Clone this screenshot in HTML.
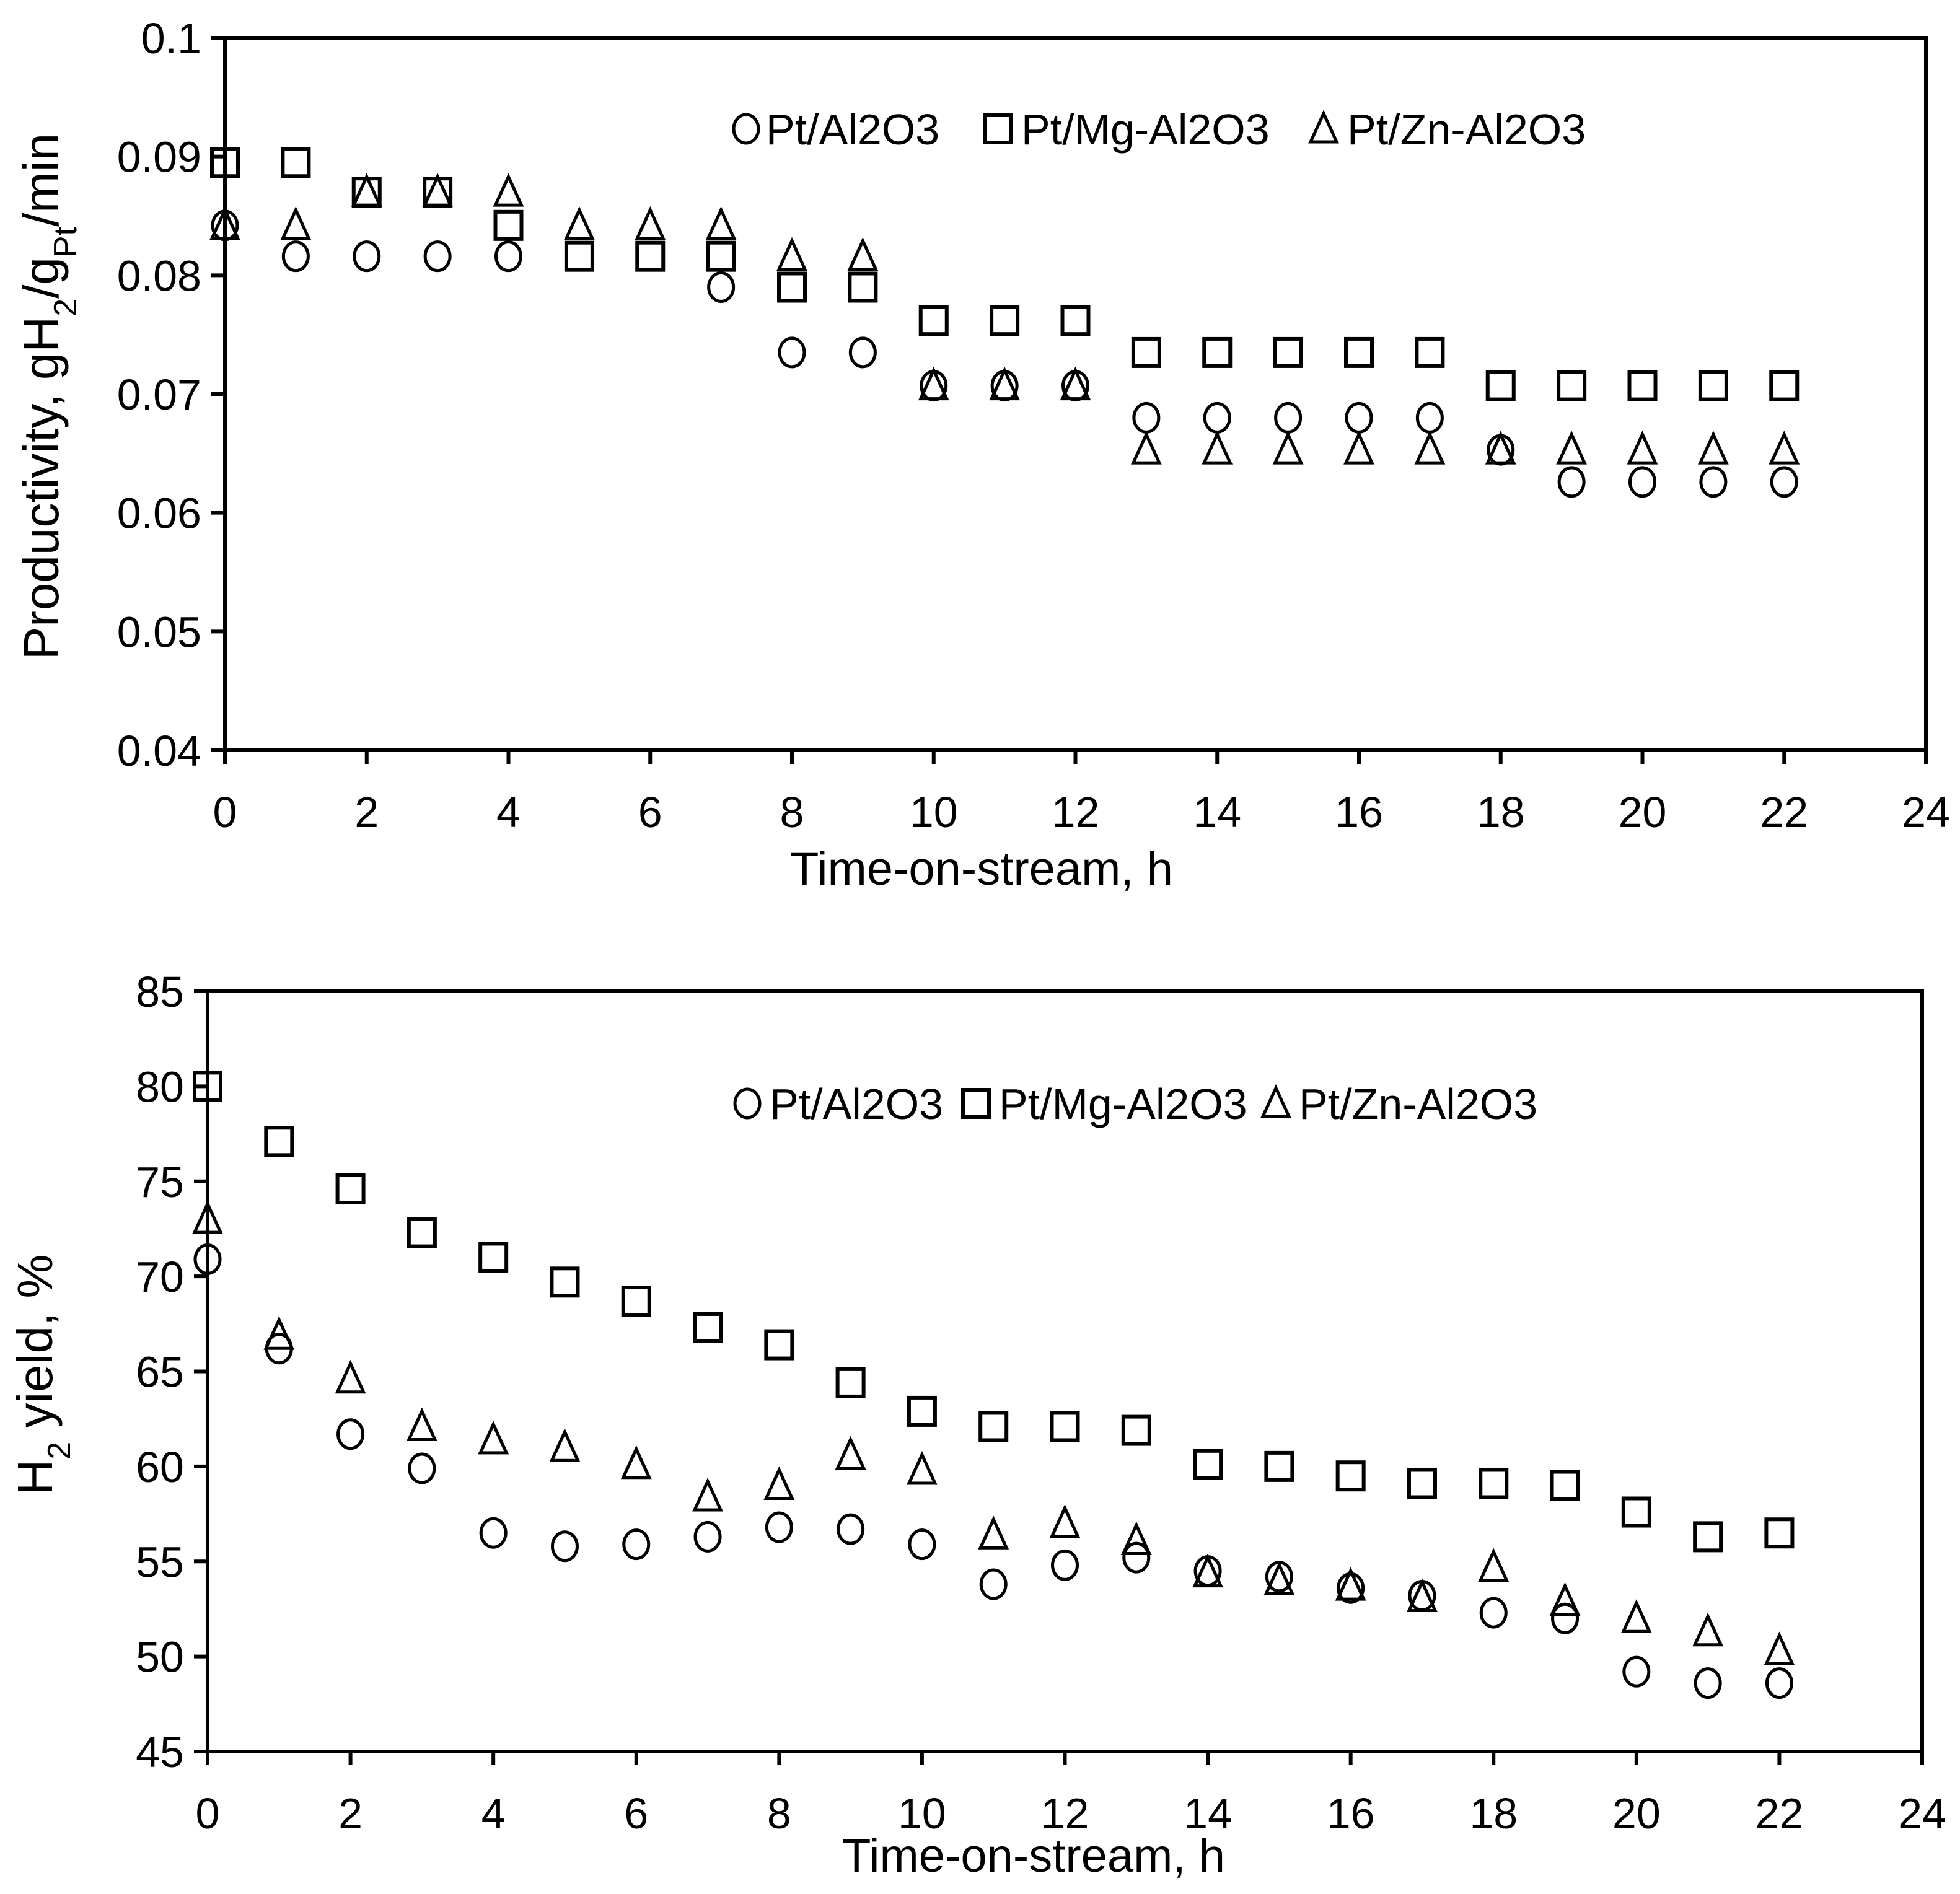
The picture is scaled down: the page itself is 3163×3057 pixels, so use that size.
<!DOCTYPE html>
<html><head><meta charset="utf-8"><style>
html,body{margin:0;padding:0;background:#fff;}
svg{display:block;}
text{font-family:"Liberation Sans",sans-serif;fill:#000;}
</style></head><body>
<svg id="fig" width="3163" height="3057" viewBox="0 0 3163 3057" xmlns="http://www.w3.org/2000/svg"></svg>
<script>
const hours = [0,1,2,3,4,5,6,7,8,9,10,11,12,13,14,15,16,17,18,19,20,21,22];
const prodAl = [0.0842,0.0816,0.0816,0.0816,0.0816,null,null,0.079,0.0735,0.0735,0.0707,0.0707,0.0707,0.068,0.068,0.068,0.068,0.068,0.0653,0.0626,0.0626,0.0626,0.0626];
const prodMg = [0.0895,0.0895,0.087,0.087,0.0842,0.0816,0.0816,0.0816,0.079,0.079,0.0762,0.0762,0.0762,0.0735,0.0735,0.0735,0.0735,0.0735,0.0707,0.0707,0.0707,0.0707,0.0707];
const prodZn = [0.0842,0.0842,0.087,0.087,0.087,0.0842,0.0842,0.0842,0.0816,0.0816,0.0707,0.0707,0.0707,0.0653,0.0653,0.0653,0.0653,0.0653,0.0653,0.0653,0.0653,0.0653,0.0653];
const yieldAl = [70.9,66.2,61.7,59.9,56.5,55.8,55.9,56.3,56.8,56.7,55.9,53.8,54.8,55.2,54.5,54.2,53.6,53.2,52.3,52.0,49.2,48.6,48.6];
const yieldMg = [80.0,77.1,74.6,72.3,71.0,69.7,68.7,67.3,66.4,64.4,62.9,62.1,62.1,61.9,60.1,60.0,59.5,59.1,59.1,59.0,57.6,56.3,56.5];
const yieldZn = [73.0,66.9,64.6,62.1,61.4,61.0,60.1,58.4,59.0,60.6,59.8,56.4,57.0,56.1,54.4,54.0,53.7,53.1,54.7,52.9,52.0,51.3,50.3];
const xTicks = [0,2,4,6,8,10,12,14,16,18,20,22,24];
const prodTicks = ["0.04","0.05","0.06","0.07","0.08","0.09","0.1"];
const yieldTicks = ["45","50","55","60","65","70","75","80","85"];

const NS="http://www.w3.org/2000/svg";
const svg=document.getElementById('fig');
function mk(tag,attrs,parent){const e=document.createElementNS(NS,tag);for(const k in attrs)e.setAttribute(k,attrs[k]);(parent||svg).appendChild(e);return e;}

function marker(g,type,cx,cy){
  let e;
  if(type==='circle'){e=mk('ellipse',{cx:cx,cy:cy,rx:20,ry:23,fill:'none',stroke:'#000','stroke-width':5},g);}
  else if(type==='square'){e=mk('rect',{x:cx-21,y:cy-22,width:42,height:44,fill:'none',stroke:'#000','stroke-width':6},g);}
  else {e=mk('polygon',{points:(cx)+','+(cy-25)+' '+(cx-21)+','+(cy+21)+' '+(cx+21)+','+(cy+21),fill:'none',stroke:'#000','stroke-width':5,'stroke-linejoin':'miter'},g);}
  return e;
}

function chart(cfg){
  const g=mk('g',{});
  
  
  const X=v=>cfg.x0+(v-0)/24*(cfg.x1-cfg.x0);
  const Y=v=>cfg.yb-(v-cfg.ymin)/(cfg.ymax-cfg.ymin)*(cfg.yb-cfg.yt);
  const frame=mk('rect',{x:cfg.x0,y:cfg.yt,width:cfg.x1-cfg.x0,height:cfg.yb-cfg.yt,fill:'none',stroke:'#000','stroke-width':6},g);
  
  
  cfg.yticks.forEach(t=>{
    const y=Y(parseFloat(t));
    mk('line',{x1:cfg.x0-22,y1:y,x2:cfg.x0,y2:y,stroke:'#000','stroke-width':6},g);
    const tx=mk('text',{x:cfg.x0-38,y:y+25,'text-anchor':'end','font-size':70},g);
    tx.textContent=t;
    
    
  });
  xTicks.forEach(t=>{
    const x=X(t);
    mk('line',{x1:x,y1:cfg.yb,x2:x,y2:cfg.yb+22,stroke:'#000','stroke-width':6},g);
    const tx=mk('text',{x:x,y:cfg.yb+124,'text-anchor':'middle','font-size':70},g);
    tx.textContent=t;
    
    
  });
  const xt=mk('text',{x:cfg.xtitleX,y:cfg.xtitleY,'text-anchor':'middle','font-size':76},g);
  xt.textContent='Time-on-stream, h';
  
  
  const yt=mk('text',{x:0,y:0,'text-anchor':'middle','font-size':80,transform:'translate('+cfg.ytitleX+','+cfg.ytitleY+') rotate(-90)'},g);
  yt.innerHTML=cfg.ytitle;
  
  
  const types=['circle','square','triangle'];
  cfg.series.forEach((s,i)=>{
    const sg=mk('g',{},g);
    
    
    hours.forEach((h,j)=>{
      if(s[j]===null||s[j]===undefined)return;
      const m=marker(sg,types[i],X(h),Y(s[j]));
      
      
    });
  });
  const lg=mk('g',{},g);
  
  
  const labels=['Pt/Al2O3','Pt/Mg-Al2O3','Pt/Zn-Al2O3'];
  labels.forEach((l,i)=>{
    const m=marker(lg,types[i],cfg.legM[i],cfg.legY);
    
    
    const t=mk('text',{x:cfg.legT[i],y:cfg.legY+25,'font-size':70},lg);
    t.textContent=l;
    
    
  });
}

chart({name:'productivity-chart',x0:363,x1:3108,yt:61,yb:1211,ymin:0.04,ymax:0.1,yticks:prodTicks,
  xtitleX:1584,xtitleY:1428,ytitleX:94,ytitleY:640,
  ytitle:'Productivity, gH<tspan baseline-shift="sub" font-size="52">2</tspan>/g<tspan baseline-shift="sub" font-size="52">Pt</tspan>/min',
  series:[prodAl,prodMg,prodZn],legY:208,legM:[1204,1610,2136],legT:[1236,1648,2174]});
chart({name:'h2-yield-chart',x0:335,x1:3102,yt:1600,yb:2827,ymin:45,ymax:85,yticks:yieldTicks,
  xtitleX:1668,xtitleY:3021,ytitleX:84,ytitleY:2219,
  ytitle:'H<tspan baseline-shift="sub" font-size="52">2</tspan> yield, %',
  series:[yieldAl,yieldMg,yieldZn],legY:1781,legM:[1206,1575,2059],legT:[1242,1612,2096]});
</script>
</body></html>
